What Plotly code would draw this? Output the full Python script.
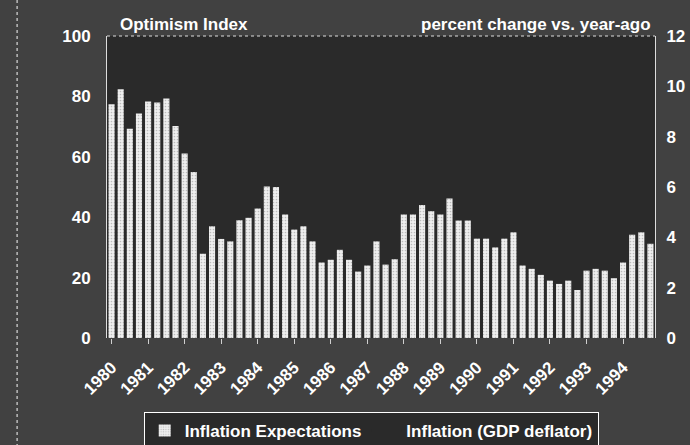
import plotly.graph_objects as go

# Quarterly consumer optimism about inflation, 1980 Q1 - 1994 Q4
years = list(range(1980, 1995))
quarters = [f"{y} Q{q}" for y in years for q in range(1, 5)]

inflation_expectations = [
    77.4, 82.4, 69.3, 74.3, 78.3, 78.0, 79.3, 70.2,   # 1980-1981
    61.1, 55.0, 27.9, 37.0, 32.8, 32.0, 39.0, 39.8,   # 1982-1983
    42.9, 50.2, 50.0, 40.9, 35.9, 37.0, 32.0, 25.0,   # 1984-1985
    25.9, 29.2, 25.9, 22.0, 24.0, 32.0, 24.3, 26.1,   # 1986-1987
    40.9, 40.9, 44.0, 42.0, 40.9, 46.2, 38.9, 38.9,   # 1988-1989
    32.9, 32.9, 30.0, 32.9, 35.0, 24.0, 22.9, 20.9,   # 1990-1991
    19.0, 17.9, 19.0, 15.9, 22.3, 22.9, 22.3, 19.8,   # 1992-1993
    25.0, 34.2, 35.0, 31.2,                           # 1994
]

year_ticks = [f"{y} Q1" for y in years]
year_labels = [str(y) for y in years]

left_ticks = [0, 20, 40, 60, 80, 100]
right_ticks = [0, 2, 4, 6, 8, 10, 12]

font_family = "Liberation Sans, Arial, sans-serif"
paper_bg = "#414141"
plot_bg = "#2a2a2a"
tick_font = dict(family=font_family, size=17, color="white", weight="bold")

fig = go.Figure()

fig.add_trace(go.Bar(
    x=quarters,
    y=inflation_expectations,
    name="Inflation Expectations",
    marker=dict(
        color="#efefef",
        line=dict(width=0),
        pattern=dict(shape=".", fgcolor="#8a8a8a", bgcolor="#efefef",
                     size=3, solidity=0.25),
    ),
))

# Inflation (GDP deflator) series entry on the right-hand axis
fig.add_trace(go.Scatter(
    x=[quarters[0]],
    y=[None],
    yaxis="y2",
    mode="lines",
    name="Inflation (GDP deflator)",
    line=dict(color=plot_bg, width=2),
))

fig.update_layout(
    width=690,
    height=445,
    margin=dict(l=107, r=35, t=36, b=107, autoexpand=False),
    paper_bgcolor=paper_bg,
    plot_bgcolor=plot_bg,
    bargap=0.33,
    font=dict(family=font_family, color="white", size=17),
    showlegend=True,
    legend=dict(
        orientation="h",
        x=0.538, xref="container", xanchor="center",
        y=0.074, yref="container", yanchor="top",
        bgcolor=plot_bg,
        bordercolor="white",
        borderwidth=1,
        font=dict(family=font_family, size=17, color="white", weight="bold"),
        itemwidth=30,
        tracegroupgap=0,
    ),
    xaxis=dict(
        type="category",
        categoryorder="array",
        categoryarray=quarters,
        range=[-0.5, len(quarters) - 0.5],
        tickmode="array",
        tickvals=year_ticks,
        ticktext=year_labels,
        tickangle=-45,
        ticks="outside",
        ticklen=5,
        tickcolor="#cfcfcf",
        tickfont=tick_font,
        ticklabelstandoff=7,
        showgrid=False,
        showline=False,
        zeroline=False,
        automargin=False,
    ),
    yaxis=dict(
        range=[0, 100],
        tickvals=left_ticks,
        tickfont=tick_font,
        showgrid=False,
        zeroline=False,
        showline=True,
        linecolor="#dddddd",
        linewidth=1,
        ticks="",
        ticklabelstandoff=12,
        automargin=False,
    ),
    yaxis2=dict(
        overlaying="y",
        side="right",
        range=[0, 12],
        tickvals=right_ticks,
        tickfont=tick_font,
        showgrid=False,
        zeroline=False,
        showline=True,
        linecolor="#dddddd",
        linewidth=1,
        ticks="",
        ticklabelstandoff=7,
        automargin=False,
    ),
    annotations=[
        dict(text="Optimism Index", xref="paper", yref="paper",
             x=0.02, y=1.0, xanchor="left", yanchor="bottom", showarrow=False,
             font=dict(family=font_family, size=17, color="white", weight="bold")),
        dict(text="percent change vs. year-ago", xref="paper", yref="paper",
             x=0.997, y=1.0, xanchor="right", yanchor="bottom", showarrow=False,
             font=dict(family=font_family, size=17, color="white", weight="bold")),
    ],
    shapes=[
        # top border of the plot area
        dict(type="line", xref="paper", yref="paper", x0=0, x1=1, y0=1, y1=1,
             line=dict(color="#dddddd", width=1, dash="dot")),
        # dotted rule along the left edge of the panel
        dict(type="line", xref="paper", yref="paper", x0=-0.164, x1=-0.164,
             y0=-0.5, y1=1.2, line=dict(color="#bbbbbb", width=1.5, dash="dot")),
    ],
)

fig.write_html("out.html")
